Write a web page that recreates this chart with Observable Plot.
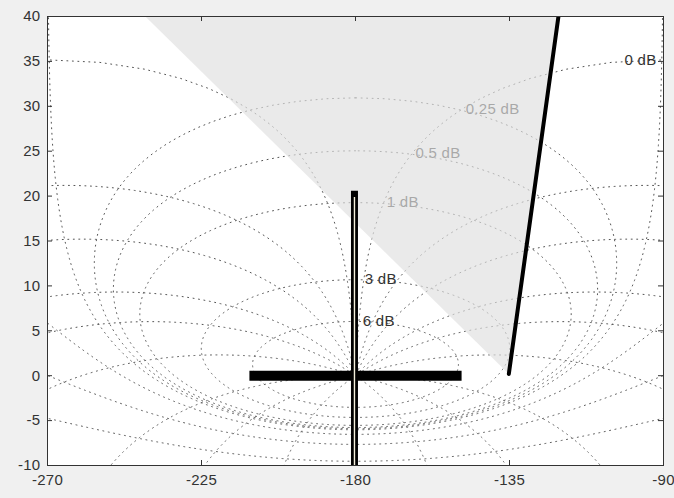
<!DOCTYPE html>
<html><head><meta charset="utf-8">
<script src="https://cdn.jsdelivr.net/npm/d3@7"></script>
<script src="https://cdn.jsdelivr.net/npm/@observablehq/plot@0.6"></script>
<style>
html,body{margin:0;padding:0;background:#f0f0f0;}
#chart{width:674px;height:498px;overflow:hidden;}
</style></head><body><div id="chart"></div>
<script>
// Axis ticks
const xTicks = [-270, -225, -180, -135, -90];
const yTicks = [-10, -5, 0, 5, 10, 15, 20, 25, 30, 35, 40];

// Nichols grid levels (closed-loop gain in dB, closed-loop phase in degrees)
const gridGainsDb = [6, 3, 1, 0.5, 0.25, 0, -1, -3, -6, -12, -20];
const gridPhasesDeg = [1, 5, 10, 20, 30, 50, 90, 120, 150, 180];

// Grid labels
const labelText = ["6 dB", "3 dB", "1 dB", "0.5 dB", "0.25 dB", "0 dB"];
const labelPhase = [-177.9, -177.3, -170.9, -162.5, -147.8, -101.4];
const labelGain = [6.1, 10.8, 19.3, 24.8, 29.7, 35.1];

// Shaded region (triangle)
const regionPhase = [-241.4, -120.7, -135.2];
const regionGain = [40, 40, 0.2];

// Open-loop response line
const responsePhase = [-135.2, -120.7];
const responseGain = [0.2, 40];

// Cross marker
const crossHPhase = [-211, -149];
const crossHGain = [0, 0];
const crossVPhase = [-180.3, -180.3];
const crossVGain = [20.6, -12];

// ---- build grid curves from the level lists ----
function openLoop(re, im) {
  const a = 1 - re, b = -im;
  const den = a * a + b * b;
  const lr = (re * a + im * b) / den;
  const li = (im * a - re * b) / den;
  let ph = Math.atan2(li, lr) * 180 / Math.PI;
  if (ph > 0) ph -= 360;
  return {phase: ph, gain: 20 * Math.log10(Math.hypot(lr, li))};
}
const gridPts = [];
gridGainsDb.forEach(G => {
  const m = Math.pow(10, G / 20);
  for (let k = 0; k <= 1440; k++) {
    const f = (-360 + k * 0.25) * Math.PI / 180;
    const p = openLoop(m * Math.cos(f), m * Math.sin(f));
    if (isFinite(p.gain) && p.gain > -60 && p.gain < 80) gridPts.push({...p, id: "g" + G});
  }
});
gridPhasesDeg.forEach(P => {
  const signs = P === 180 ? [1] : [1, -1];
  signs.forEach(s => {
    const f = s * P * Math.PI / 180;
    for (let k = 0; k <= 4000; k++) {
      const m = Math.pow(10, -4 + k * 0.002);
      const p = openLoop(m * Math.cos(f), m * Math.sin(f));
      if (isFinite(p.gain) && p.gain > -60) gridPts.push({...p, id: "p" + s * P});
    }
  });
});

const labels = labelText.map((t, i) => ({t, x: labelPhase[i], y: labelGain[i]}));
const region = regionPhase.map((x, i) => ({x, y: regionGain[i]}));
const response = responsePhase.map((x, i) => ({x, y: responseGain[i]}));
const crossH = crossHPhase.map((x, i) => ({x, y: crossHGain[i]}));
const crossV = crossVPhase.map((x, i) => ({x, y: crossVGain[i]}));

const W = 674, H = 498, mL = 47, mR = 11, mT = 16, mB = 33;
const innerW = W - mL - mR, innerH = H - mT - mB;
const ink = "#333";
const fontFamily = "'Liberation Sans', Arial, sans-serif";

const chart = Plot.plot({
  width: W, height: H,
  marginLeft: mL, marginRight: mR, marginTop: mT, marginBottom: mB,
  style: {background: "#f0f0f0", fontFamily, fontSize: "15px", color: ink, letterSpacing: "0.3px"},
  x: {domain: [-270, -90], axis: null},
  y: {domain: [-10, 40], axis: null},
  marks: [
    Plot.frame({fill: "white", stroke: "none"}),
    Plot.line(gridPts, {x: "phase", y: "gain", z: "id", stroke: "#555", strokeWidth: 1, strokeDasharray: "1 4.5", clip: true}),
    Plot.text(labels, {x: "x", y: "y", text: "t", textAnchor: "start", fill: ink, fontSize: 15}),
    Plot.line(region, {x: "x", y: "y", fill: "#e0e0e0", fillOpacity: 0.68, stroke: "none", clip: true}),
    Plot.line(response, {x: "x", y: "y", stroke: "black", strokeWidth: 4, clip: true}),
    Plot.line(crossH, {x: "x", y: "y", stroke: "black", strokeWidth: 10, strokeLinecap: "butt", clip: true}),
    Plot.line(crossV, {x: "x", y: "y", stroke: "black", strokeWidth: 7, strokeLinecap: "butt", clip: true}),
    Plot.line(crossV, {x: "x", y: d => Math.min(d.y, 19.9), stroke: "#f4efdc", strokeWidth: 1.4, strokeLinecap: "butt", clip: true}),
    Plot.tickX(xTicks, {x: d => d, insetTop: innerH - 5, stroke: ink}),
    Plot.tickX(xTicks, {x: d => d, insetBottom: innerH - 5, stroke: ink}),
    Plot.tickY(yTicks, {y: d => d, insetRight: innerW - 5, stroke: ink}),
    Plot.tickY(yTicks, {y: d => d, insetLeft: innerW - 5, stroke: ink}),
    Plot.frame({stroke: ink}),
    Plot.axisX({ticks: xTicks, tickSize: 0, tickPadding: 9, tickFormat: d => String(d), fontSize: 15, fill: ink}),
    Plot.axisY({ticks: yTicks, tickSize: 0, tickPadding: 7, tickFormat: d => String(d), fontSize: 15, fill: ink})
  ]
});
document.getElementById("chart").appendChild(chart);
</script>
</body></html>
